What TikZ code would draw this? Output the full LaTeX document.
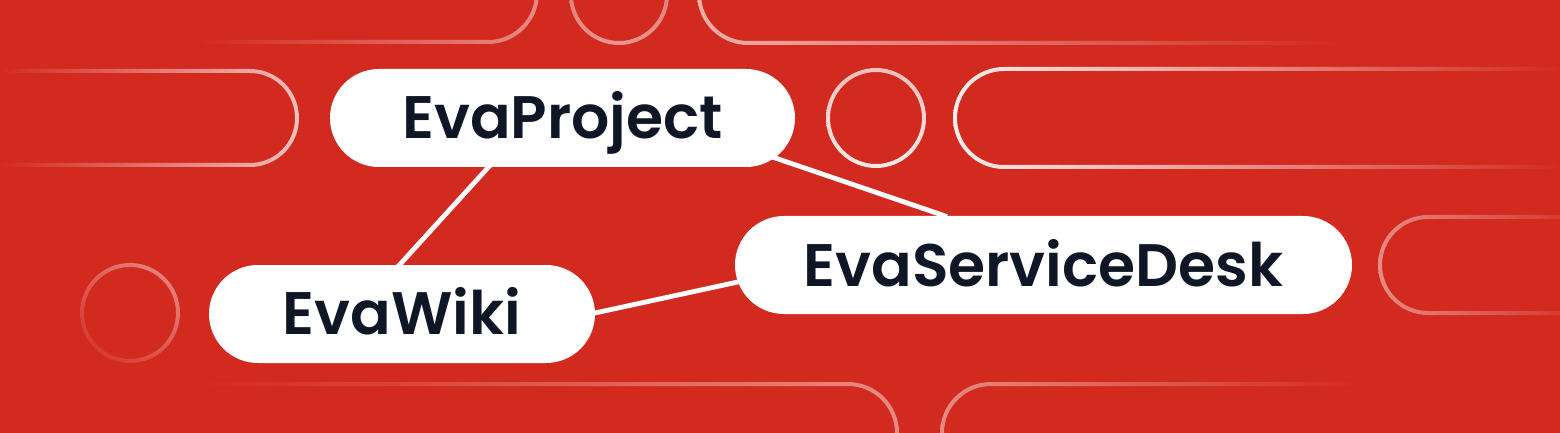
\documentclass[tikz,border=0pt]{standalone}
\usepackage{fontspec}
\IfFontExistsTF{Poppins SemiBold}{\setmainfont{Poppins SemiBold}}{%
  \IfFontExistsTF{Poppins Medium}{\setmainfont{Poppins Medium}}{\setmainfont{Poppins}[FakeBold=1.5]}}
\usetikzlibrary{calc}
\definecolor{bg}{RGB}{211,42,31}
\definecolor{ink}{RGB}{15,23,38}
% pill ring: x1 y1 x2 y2 (centreline, px), outer corner, inner corner, shading
\newcommand\decopill[7]{\shade[#7,even odd rule] (#1-2,#2-2) [rounded corners=#5] rectangle (#3+2,#4+2) (#1+2,#2+2) [rounded corners=#6] rectangle (#3-2,#4-2);}
% circle ring: x y outer inner shading
\newcommand\decocirc[5]{\shade[#5,even odd rule] (#1,#2) circle (#3) (#1,#2) circle (#4);}
\begin{document}
\begin{tikzpicture}[x=0.5pt,y=-0.5pt,
  pill/.style={draw=none, fill=white, rounded corners=24.5pt, minimum height=49pt,
    inner sep=0pt, text=ink, text height=21pt, text depth=0pt,
    font=\fontsize{30pt}{36pt}\selectfont},
  link/.style={draw=white, line width=2.4pt}]
\fill[bg] (0,0) rectangle (1560,433);
\useasboundingbox (0,0) rectangle (1560,433);
\begin{scope}
\clip (0,0) rectangle (1560,433);
% top row
\decopill{-137}{-56}{537}{42}{25.5pt}{23.5pt}{left color=bg, right color=white!45!bg, middle color=bg}
\decocirc{619}{-5}{25pt}{23pt}{top color=white!30!bg, bottom color=white!50!bg}
\decopill{699}{-55}{1981}{43}{25.5pt}{23.5pt}{left color=white!62!bg, right color=bg, middle color=bg}
% middle row
\decopill{-297}{71}{297}{165}{24.5pt}{22.5pt}{left color=bg, right color=white!70!bg, middle color=bg}
\decocirc{876}{118}{25pt}{23pt}{top color=white!70!bg, bottom color=white!90!bg}
\decopill{955}{69}{2165}{167}{25.5pt}{23.5pt}{left color=white!92!bg, right color=bg, middle color=bg}
% lower row
\decopill{1380}{217}{1820}{313}{25pt}{23pt}{left color=white!45!bg, right color=bg, middle color=bg}
\decocirc{130}{313}{25pt}{23pt}{top color=white!40!bg, bottom color=white!8!bg, shading angle=-40}
% bottom row
\decopill{-497}{384}{897}{482}{25.5pt}{23.5pt}{left color=bg, right color=white!45!bg, middle color=bg}
\decopill{942}{384}{1778}{482}{25.5pt}{23.5pt}{left color=white!45!bg, right color=bg, middle color=bg}
\end{scope}
% nodes
\node[pill, minimum width=232.5pt] (proj) at (562.5,118) {EvaProject};
\node[pill, minimum width=193pt] (wiki) at (402,314) {EvaWiki};
\node[pill, minimum width=308.5pt] (desk) at (1043.5,265) {EvaServiceDesk};
% connectors
\draw[link] ($(proj.south)+(-72.5,-2)$) -- ($(wiki.north)+(-4,2)$);
\draw[link] ($(wiki.east)+(-5,0)$) -- ($(desk.west)+(6,16.4)$);
\draw[link] ($(proj.east)+(-26,38)$) -- ($(desk.north)+(-96.5,1)$);
\end{tikzpicture}
\end{document}
